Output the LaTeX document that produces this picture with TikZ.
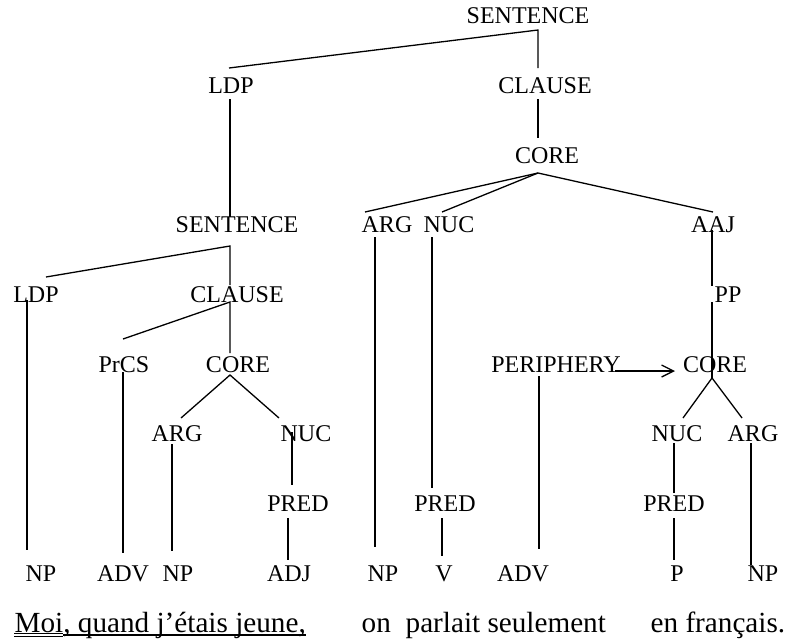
\documentclass[tikz,border=0pt]{standalone}
\usepackage{fontspec}
\setmainfont{Liberation Serif}
\usetikzlibrary{arrows.meta, calc}

\begin{document}
\begin{tikzpicture}[>={Straight Barb[length=6pt, width=6pt]},
    x=0.5pt, y=-0.5pt,          % one unit = one pixel of the page
    line width=0.65pt,
    every node/.style={inner sep=0pt,
                       text height=8pt,
                       text depth=0pt,
                       font=\fontsize{12}{14}\selectfont},
    word/.style={anchor=base west,
                 font=\fontsize{14.6}{17}\selectfont}]

  \useasboundingbox (0,0) rectangle (798,638);

  % Upper part of the tree
  \node (s0)   at (528,15)  {SENTENCE};
  \node (ldp0) at (231,85)  {LDP};
  \node (cl0)  at (545,85)  {CLAUSE};
  \node (co0)  at (547,155) {CORE};
  \node (s1)   at (237,224) {SENTENCE};
  \node (arg0) at (387,224) {ARG};
  \node (nuc0) at (449,224) {NUC};
  \node (aaj)  at (713,224) {AAJ};
  \node (ldp1) at (36,294)  {LDP};
  \node (cl1)  at (237,294) {CLAUSE};
  \node (pp)   at (728,294) {PP};

  % Middle rows
  \node (prcs) at (124,364) {PrCS};
  \node (co1)  at (238,364) {CORE};
  \node (peri) at (556,364) {PERIPHERY};
  \node (co2)  at (715,364) {CORE};
  \node (arg1) at (177,433) {ARG};
  \node (nuc1) at (306,433) {NUC};
  \node (nuc2) at (677,433) {NUC};
  \node (arg2) at (753,433) {ARG};
  \node (pred1) at (298,503) {PRED};
  \node (pred0) at (445,503) {PRED};
  \node (pred2) at (674,503) {PRED};

  % Word classes
  \node (np1)  at (41,573)  {NP};
  \node (adv1) at (123,573) {ADV};
  \node (np2)  at (178,573) {NP};
  \node (adj)  at (289,573) {ADJ};
  \node (np3)  at (383,573) {NP};
  \node (v)    at (444,573) {V};
  \node (adv2) at (523,573) {ADV};
  \node (p)    at (677,573) {P};
  \node (np4)  at (763,573) {NP};

  % The sentence
  \node[word] (moi)  at (14,632)  {Moi, quand j’étais jeune,};
  \node[word] (on)   at (361,632) {on};
  \node[word] (parl) at (405,632) {parlait seulement};
  \node[word] (enfr) at (650,632) {en français.};

  % Branches
  \draw ($(ldp0)+(-2,-17)$) -- ($(s0)+(10,15)$) -- ($(cl0)+(-7,-17)$);
  \draw ($(ldp0)+(-1,14)$) -- ($(s1)+(-7,-7)$);
  \draw ($(cl0)+(-7,14)$) -- ($(co0)+(-9,-17)$);
  \draw ($(arg0)+(-22,-12)$) -- ($(co0)+(-9,18)$) -- ($(aaj)+(0,-12)$);
  \draw ($(co0)+(-9,18)$) -- ($(nuc0)+(-7,-12)$);
  \draw ($(ldp1)+(10,-17)$) -- ($(s1)+(-7,22)$) -- ($(cl1)+(-7,-9)$);
  \draw ($(prcs)+(-1,-25)$) -- ($(cl1)+(-7,8)$) -- ($(co1)+(-8,-11)$);
  \draw ($(arg1)+(4,-15)$) -- ($(co1)+(-8,11)$) -- ($(nuc1)+(-27,-15)$);
  \draw ($(ldp1)+(-9,6)$) -- ($(np1)+(-14,-23)$);
  \draw ($(prcs)+(-1,8)$) -- ($(adv1)+(0,-20)$);
  \draw ($(arg1)+(-5,11)$) -- ($(np2)+(-6,-22)$);
  \draw ($(nuc1)+(-14,-1)$) -- ($(pred1)+(-6,-18)$);
  \draw ($(pred1)+(-10,15)$) -- ($(adj)+(-1,-13)$);
  \draw ($(arg0)+(-12,13)$) -- ($(np3)+(-8,-26)$);
  \draw ($(nuc0)+(-17,13)$) -- ($(pred0)+(-13,-15)$);
  \draw ($(pred0)+(-3,15)$) -- ($(v)+(-2,-17)$);
  \draw ($(aaj)+(-1,6)$) -- ($(pp)+(-16,-8)$);
  \draw ($(pp)+(-16,8)$) -- ($(co2)+(-3,14)$);
  \draw ($(nuc2)+(6,-15)$) -- ($(co2)+(-3,14)$) -- ($(arg2)+(-11,-15)$);
  \draw ($(nuc2)+(-3,10)$) -- ($(pred2)+(0,-10)$);
  \draw ($(pred2)+(0,15)$) -- ($(p)+(-3,-13)$);
  \draw ($(arg2)+(-2,10)$) -- ($(np4)+(-12,-8)$);
  \draw ($(peri)+(-17,12)$) -- ($(adv2)+(16,-24)$);
  \draw[->] ($(peri)+(59,7)$) -- ($(co2)+(-40,7)$);

  % Underlining
  \draw[line width=0.5pt] (moi.base west) ++(0,1.5) -- ++(49,0)
                          (moi.base west) ++(0,4.5) -- ++(49,0);
  \draw[line width=1pt] ($(moi.base west)+(49,3)$) -- ($(moi.base east)+(0,3)$);

\end{tikzpicture}
\end{document}
